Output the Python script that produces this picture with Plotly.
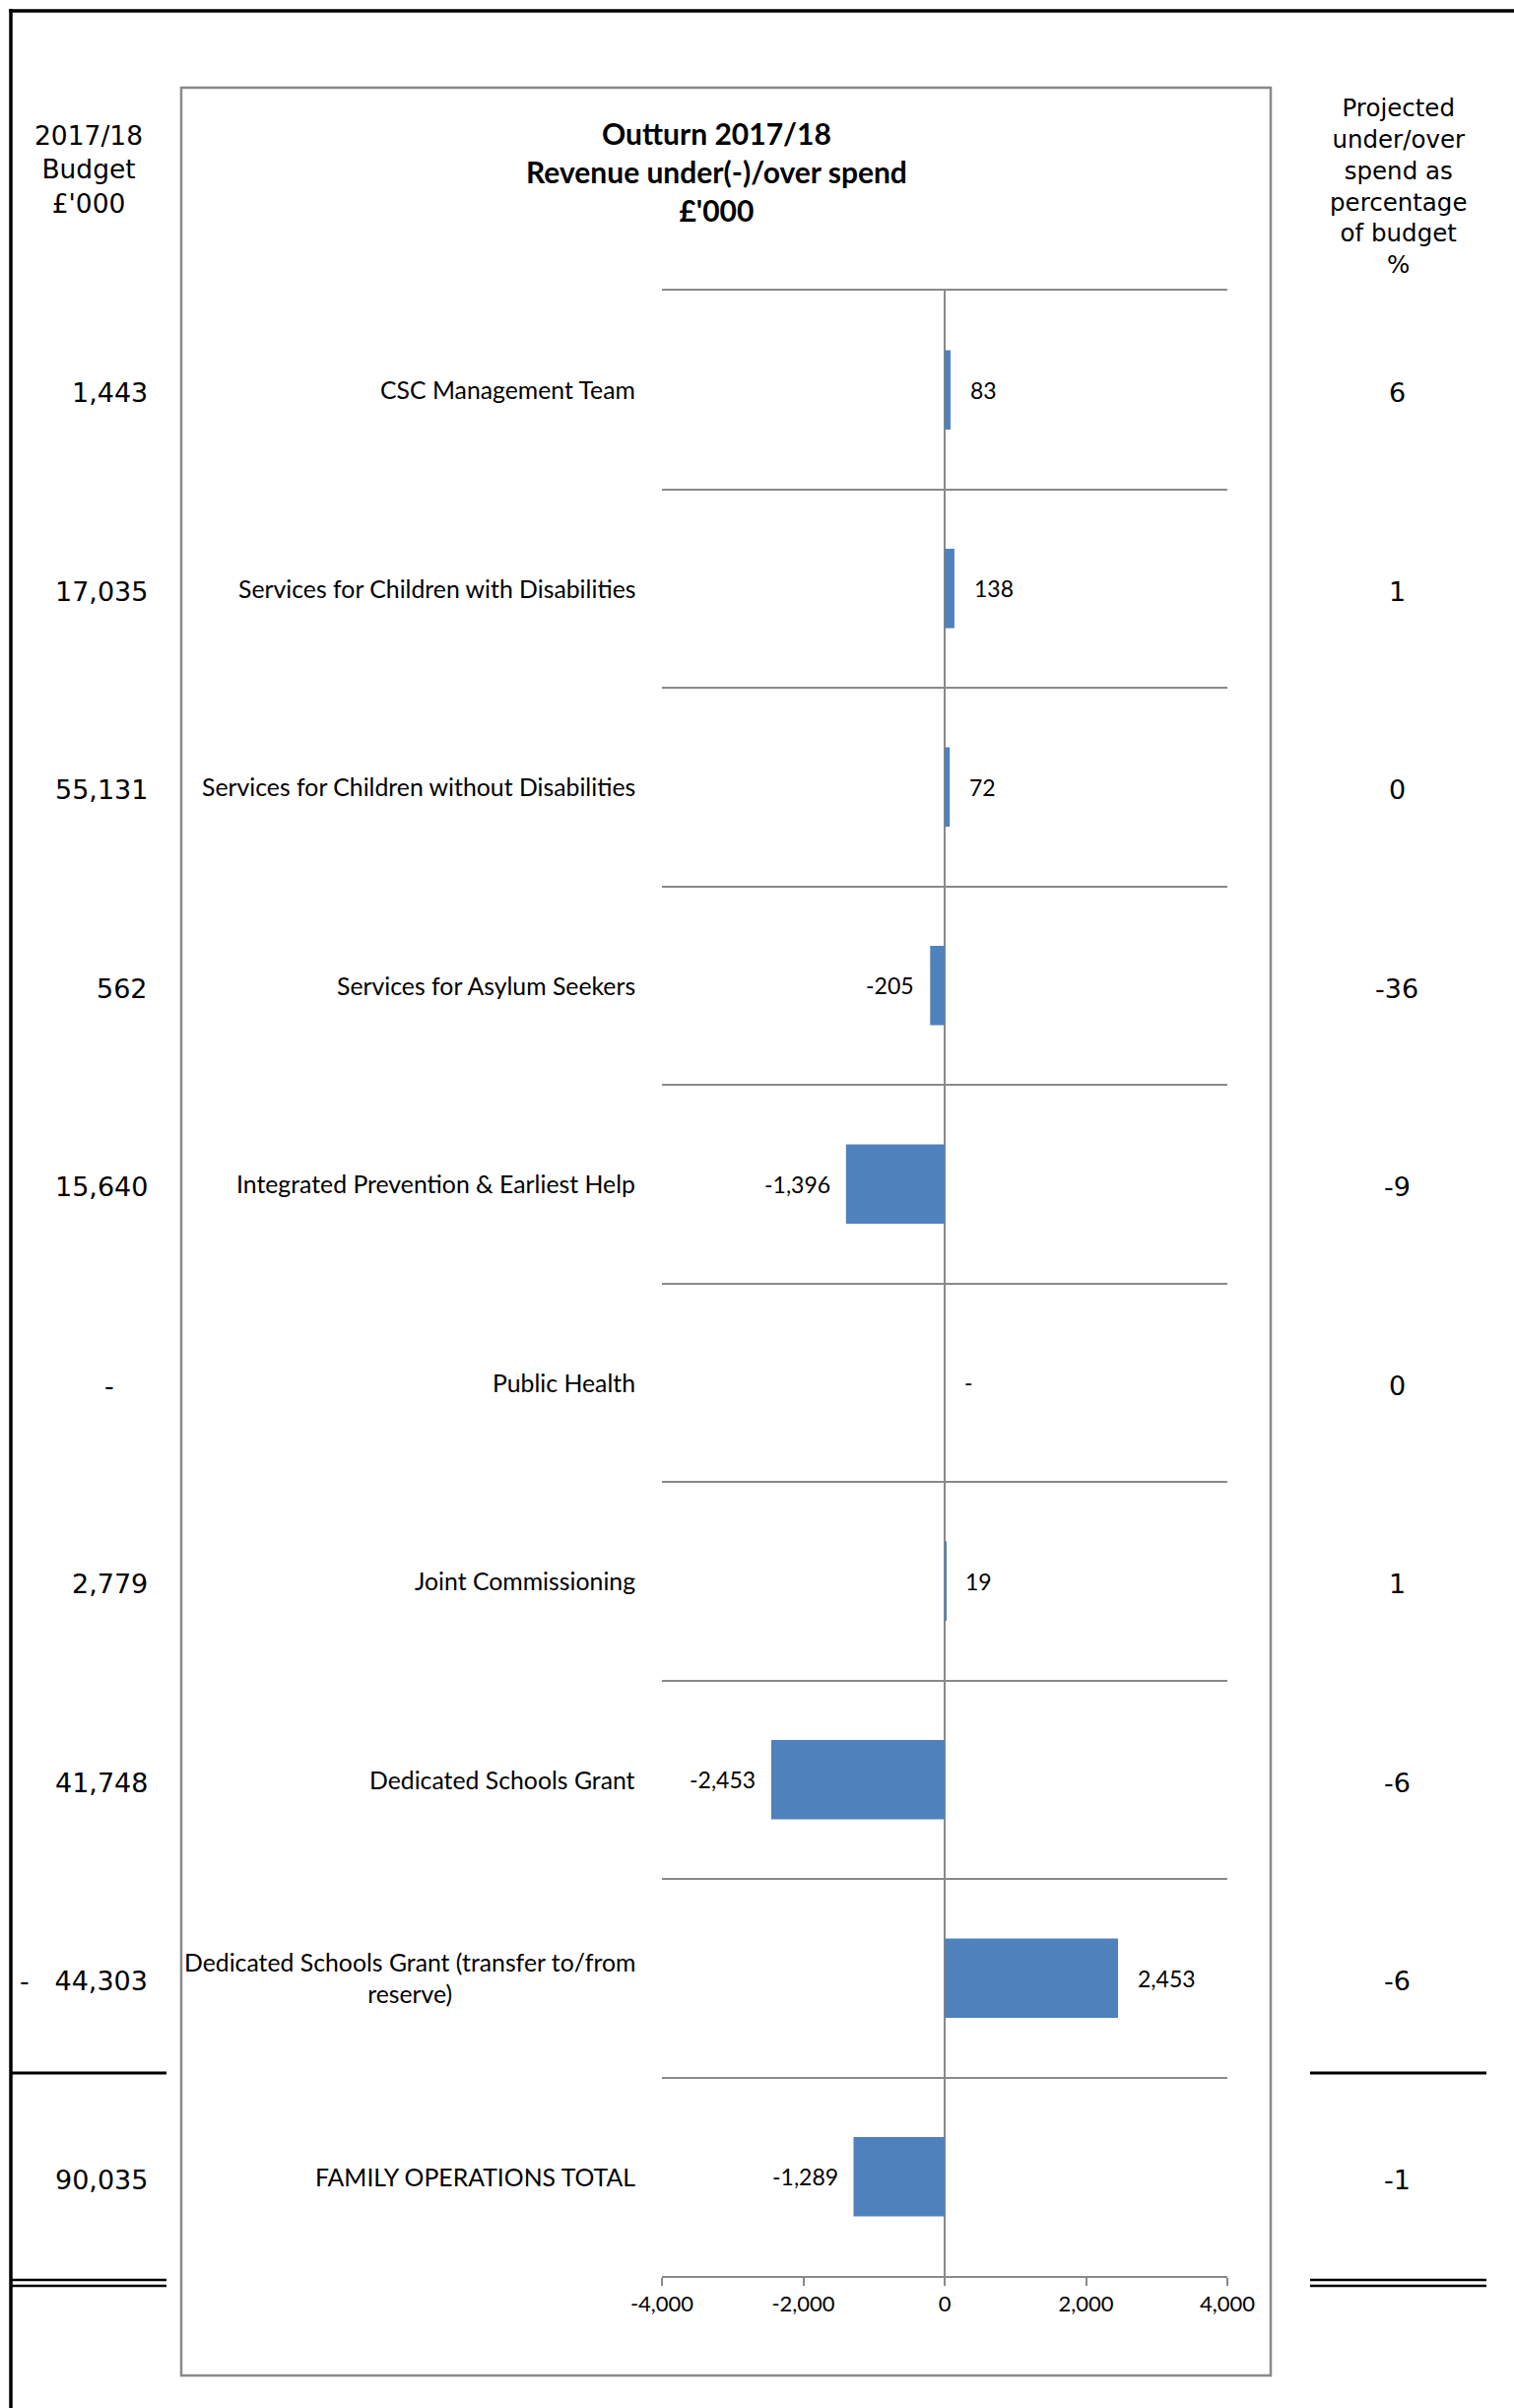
import plotly.graph_objects as go

# ---------------- data ----------------
categories = [
    "CSC Management Team",
    "Services for Children with Disabilities",
    "Services for Children without Disabilities",
    "Services for Asylum Seekers",
    "Integrated Prevention & Earliest Help",
    "Public Health",
    "Joint Commissioning",
    "Dedicated Schools Grant",
    "Dedicated Schools Grant (transfer to/from<br>reserve)",
    "FAMILY OPERATIONS TOTAL",
]
outturn = [83, 138, 72, -205, -1396, 0, 19, -2453, 2453, -1289]
budget = [1443, 17035, 55131, 562, 15640, 0, 2779, 41748, -44303, 90035]
pct_of_budget = [6, 1, 0, -36, -9, 0, 1, -6, -6, -1]
x_ticks = [-4000, -2000, 0, 2000, 4000]

title_lines = ["Outturn 2017/18", "Revenue under(-)/over spend", "£'000"]
left_header = ["2017/18", "Budget", "£'000"]
right_header = ["Projected", "under/over", "spend as", "percentage", "of budget", "%"]

# ---------------- layout helpers ----------------
W, H = 1537, 2444
def xp(px):
    return px / W
def yp(py):
    return 1 - py / H

NB = "\u00a0"
CHART_FONT = "Lato, Carlito, Calibri, sans-serif"
SIDE_FONT = "DejaVu Sans, Verdana, sans-serif"
BLUE = "#4F81BD"
GRID = "#898989"

def acct(v):
    if v == 0:
        return "-" + NB * 4
    if v < 0:
        return "-" + NB * 3 + f"{-v:,}"
    return f"{v:,}"

def lbl(v):
    return "-" if v == 0 else f"{v:,}"

fig = go.Figure()
fig.add_trace(go.Bar(
    x=outturn, y=categories, orientation="h",
    marker=dict(color=BLUE, line=dict(width=0)),
    hoverinfo="x+y",
))

annotations = []
# category labels
for c in categories:
    annotations.append(dict(
        x=xp(647), xref="paper", y=c, yref="y", text=c, showarrow=False,
        xanchor="right", yanchor="middle", align="center",
        font=dict(family=CHART_FONT, size=24.8, color="black"),
    ))
# data labels
for c, v in zip(categories, outturn):
    annotations.append(dict(
        x=v, xref="x", y=c, yref="y", text=lbl(v), showarrow=False,
        xanchor="left" if v >= 0 else "right", yanchor="middle",
        xshift=18 if v >= 0 else -14,
        font=dict(family=CHART_FONT, size=23, color="black"),
    ))
# budget column
for c, v in zip(categories, budget):
    annotations.append(dict(
        x=xp(152), xref="paper", y=c, yref="y", text=acct(v), showarrow=False,
        xanchor="right", yanchor="middle", yshift=-3,
        font=dict(family=SIDE_FONT, size=27, color="black"),
    ))
# percentage column
for c, v in zip(categories, pct_of_budget):
    annotations.append(dict(
        x=xp(1418), xref="paper", y=c, yref="y", text=str(v), showarrow=False,
        xanchor="center", yanchor="middle", yshift=-3,
        font=dict(family=SIDE_FONT, size=27, color="black"),
    ))
# headers
annotations.append(dict(
    x=xp(727), xref="paper", y=yp(174), yref="paper", showarrow=False,
    text="<br>".join(f"<b>{t}</b>" for t in title_lines), align="center",
    xanchor="center", yanchor="middle",
    font=dict(family=CHART_FONT, size=30, color="black"),
))
annotations.append(dict(
    x=xp(90), xref="paper", y=yp(172), yref="paper", showarrow=False,
    text="<br>".join(left_header), align="center",
    xanchor="center", yanchor="middle",
    font=dict(family=SIDE_FONT, size=26.5, color="black"),
))
annotations.append(dict(
    x=xp(1419), xref="paper", y=yp(189), yref="paper", showarrow=False,
    text="<br>".join(right_header), align="center",
    xanchor="center", yanchor="middle",
    font=dict(family=SIDE_FONT, size=24.5, color="black"),
))

def pline(x0, y0, x1, y1, color="black", width=3):
    return dict(type="line", xref="paper", yref="paper",
                x0=xp(x0), y0=yp(y0), x1=xp(x1), y1=yp(y1),
                line=dict(color=color, width=width), layer="above")

shapes = [
    # outer frame
    pline(9, 11, W, 11, width=3.5),
    pline(11, 9, 11, H, width=3.5),
    # inner chart box
    dict(type="rect", xref="paper", yref="paper",
         x0=xp(184), y0=yp(89), x1=xp(1290), y1=yp(2411),
         line=dict(color=GRID, width=2.5), layer="below"),
    # single rules above totals
    pline(11, 2104, 169, 2104, width=3),
    pline(1330, 2104, 1509, 2104, width=3),
    # double rules below totals
    pline(11, 2314, 169, 2314, width=2.5),
    pline(11, 2320, 169, 2320, width=2.5),
    pline(1330, 2314, 1509, 2314, width=2.5),
    pline(1330, 2320, 1509, 2320, width=2.5),
]

fig.update_layout(
    template="none",
    width=W, height=H, autosize=False,
    margin=dict(l=0, r=0, t=0, b=0, pad=0, autoexpand=False),
    paper_bgcolor="white", plot_bgcolor="white",
    showlegend=False, bargap=0.6,
    annotations=annotations, shapes=shapes,
    xaxis=dict(
        domain=[xp(672), xp(1246)], range=[-4000, 4000],
        tickvals=x_ticks, ticktext=[f"{v:,}" for v in x_ticks],
        ticks="outside", ticklen=8, tickwidth=2, tickcolor=GRID,
        showline=True, linecolor=GRID, linewidth=2, mirror=True,
        showgrid=False, zeroline=True, zerolinecolor=GRID, zerolinewidth=1.5,
        tickfont=dict(family=CHART_FONT, size=22, color="black"),
        automargin=False, fixedrange=True,
    ),
    yaxis=dict(
        domain=[yp(2310), yp(295)], type="category",
        categoryorder="array", categoryarray=categories,
        range=[len(categories) - 0.5, -0.5],
        showgrid=True, gridcolor=GRID, gridwidth=2, tickson="boundaries",
        showticklabels=False, ticks="", showline=False, zeroline=False,
        automargin=False, fixedrange=True,
    ),
)

fig.write_html("out.html")
